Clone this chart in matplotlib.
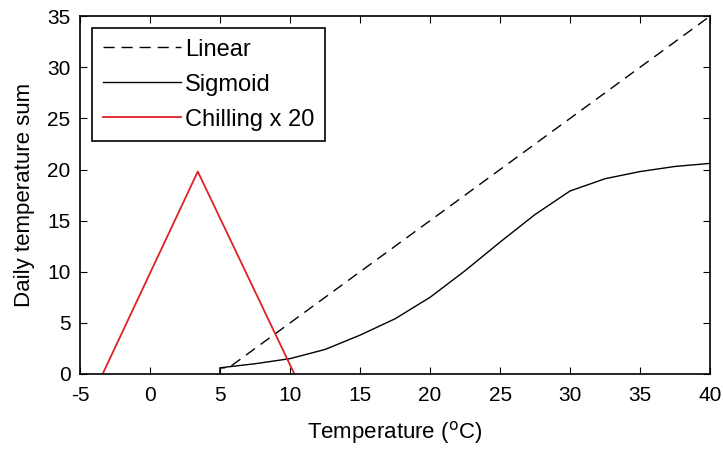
import numpy as np
import matplotlib
matplotlib.use("Agg")
import matplotlib.pyplot as plt

plt.rcParams['font.family'] = ['Liberation Sans', 'DejaVu Sans']
plt.rcParams['axes.unicode_minus'] = False

# Linear model (starts with a small step at 5 degC)
lin_x = [5, 5, 5.6, 40]
lin_y = [0, 0.6, 0.6, 35]

# Sigmoid model
sig_x = [5, 5, 5.6, 7.5, 10, 12.5, 15, 17.5, 20, 22.5, 25, 27.5, 30, 32.5, 35, 37.5, 40]
sig_y = [0, 0.6, 0.7, 1.0, 1.5, 2.4, 3.8, 5.4, 7.5, 10.1, 12.9, 15.6, 17.9, 19.1, 19.8, 20.3, 20.6]

# Chilling (scaled x 20)
chill_x = [-3.4, 3.4, 10.3]
chill_y = [0, 19.8, 0]

fig = plt.figure(figsize=(7.23, 4.5), dpi=100)
ax = fig.add_axes([0.111, 0.169, 0.871, 0.795])

ax.plot(lin_x, lin_y, '--', color='black', lw=1, dashes=(8, 5), label='Linear')
ax.plot(sig_x, sig_y, '-', color='black', lw=1, label='Sigmoid')
ax.plot(chill_x, chill_y, '-', color='#e0202a', lw=1.3, label='Chilling x 20')

ax.set_xlim(-5, 40)
ax.set_ylim(0, 35)
ax.set_xticks(np.arange(-5, 41, 5))
ax.set_yticks(np.arange(0, 36, 5))
ax.tick_params(direction='in', top=True, right=True, length=5, labelsize=15)
ax.tick_params(axis='x', pad=9)
ax.tick_params(axis='y', pad=7)
for s in ax.spines.values():
    s.set_linewidth(1.2)

ax.set_xlabel('Temperature ($^{\\mathrm{o}}$C)', fontsize=16, labelpad=10)
ax.set_ylabel('Daily temperature sum', fontsize=16, labelpad=9)

leg = ax.legend(loc='upper left', fontsize=17, fancybox=False, framealpha=1,
                edgecolor='black', handlelength=3.3, handletextpad=0.2,
                borderpad=0.45, labelspacing=0.55, borderaxespad=0.5)
leg.get_frame().set_linewidth(1.2)

fig.savefig('out.png', dpi=100)
